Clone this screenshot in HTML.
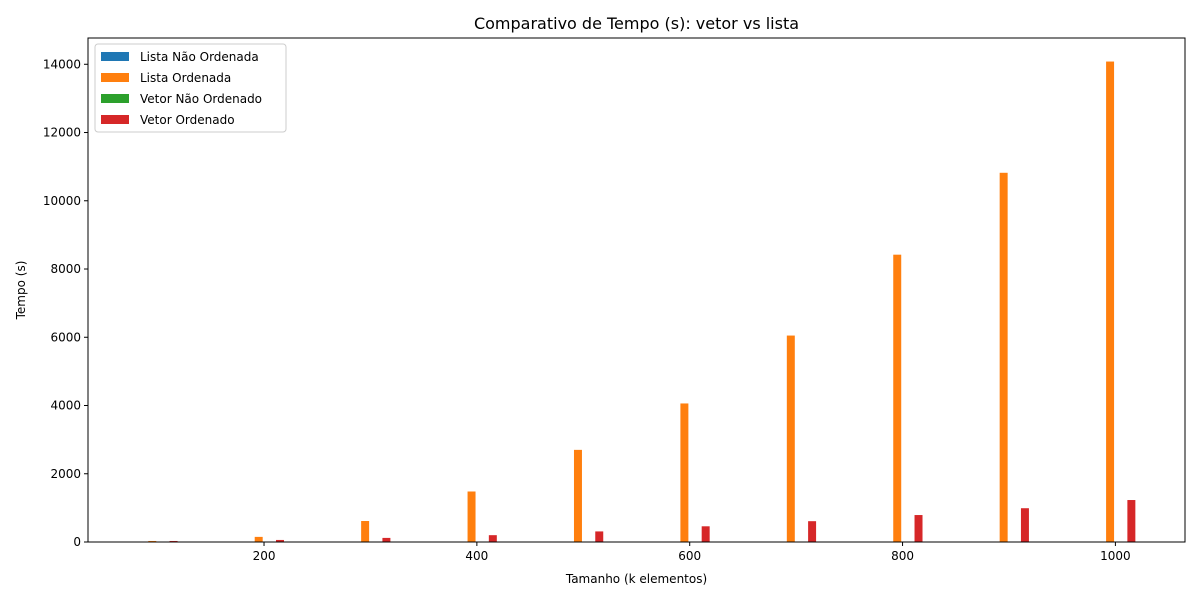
<!DOCTYPE html>
<html><head><meta charset="utf-8"><style>
body{margin:0;background:#fff;font-family:"Liberation Sans","DejaVu Sans",sans-serif;}
svg text{font-family:"DejaVu Sans","Liberation Sans",sans-serif;}
</style></head><body>
<svg id="chart" width="1200" height="600" xmlns="http://www.w3.org/2000/svg"></svg>
<script>
const categories=[100,200,300,400,500,600,700,800,900,1000];
const listaNaoOrdenada=[0.5,1,1.5,2,2.5,3,3.5,4,4.5,5];
const listaOrdenada=[30,150,615,1480,2700,4060,6050,8420,10820,14080];
const vetorNaoOrdenado=[0.2,0.4,0.6,0.8,1,1.2,1.4,1.6,1.8,2];
const vetorOrdenado=[30,60,120,200,310,460,610,790,990,1230];
const seriesNames=["Lista Não Ordenada","Lista Ordenada","Vetor Não Ordenado","Vetor Ordenado"];
const xTicks=[200,400,600,800,1000];
const yTicks=[0,2000,4000,6000,8000,10000,12000,14000];

const colors=["#1f77b4","#ff7f0e","#2ca02c","#d62728"];
const offsets=[-15,-5,5,15];
const L=88,R=1185,T=38,B=542;
const xMin=34.6,xMax=1065.4,yMax=14770;
const X=v=>L+(v-xMin)/(xMax-xMin)*(R-L);
const Y=v=>B-v/yMax*(B-T);
const svg=document.getElementById('chart');
const NS="http://www.w3.org/2000/svg";
function mk(tag,attrs,text){const e=document.createElementNS(NS,tag);for(const k in attrs)e.setAttribute(k,attrs[k]);if(text!==undefined)e.textContent=text;svg.appendChild(e);return e;}

const all=[listaNaoOrdenada,listaOrdenada,vetorNaoOrdenado,vetorOrdenado];
all.forEach((s,si)=>{
  categories.forEach((c,i)=>{
    const x0=X(c+offsets[si]-3.75),x1=X(c+offsets[si]+3.75);
    const r=mk('rect',{x:x0,y:Y(s[i]),width:x1-x0,height:B-Y(s[i]),fill:colors[si]});
    
    
  });
});
const frame=mk('rect',{x:L,y:T,width:R-L,height:B-T,fill:'none',stroke:'#000','stroke-width':1});


xTicks.forEach(t=>{
  const l=mk('line',{x1:X(t),x2:X(t),y1:B,y2:B+4,stroke:'#000'});
  
  
  const tx=mk('text',{x:X(t),y:B+18,'font-size':12,'text-anchor':'middle'},String(t));
  
  
});
yTicks.forEach(t=>{
  const l=mk('line',{x1:L-4,x2:L,y1:Y(t),y2:Y(t),stroke:'#000'});
  
  
  const tx=mk('text',{x:L-7,y:Y(t)+4,'font-size':12,'text-anchor':'end'},String(t));
  
  
});
const title=mk('text',{x:(L+R)/2,y:29,'font-size':16,'text-anchor':'middle'},'Comparativo de Tempo (s): vetor vs lista');


const xl=mk('text',{x:(L+R)/2,y:583,'font-size':12,'text-anchor':'middle'},'Tamanho (k elementos)');


const yl=mk('text',{x:0,y:0,'font-size':12,'text-anchor':'middle',transform:'translate(25,290) rotate(-90)'},'Tempo (s)');


const lg=mk('rect',{x:95,y:44,width:191,height:88,rx:3,fill:'#fff','fill-opacity':0.8,stroke:'#ccc'});


seriesNames.forEach((n,i)=>{
  const y=56+i*21;
  const sw=mk('rect',{x:101,y:y-4,width:28,height:9,fill:colors[i]});
  
  
  const tx=mk('text',{x:140,y:y+5,'font-size':12},n);
  
  
});
</script>
</body></html>
